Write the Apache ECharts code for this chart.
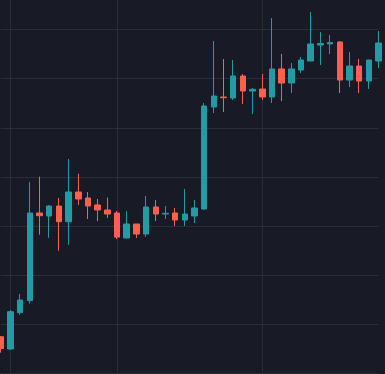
<!DOCTYPE html>
<html>
<head>
<meta charset="utf-8">
<style>
  html, body { margin: 0; padding: 0; background: #181a25; }
  #chart { width: 385px; height: 374px; }
</style>
<script src="https://cdn.jsdelivr.net/npm/echarts@6/dist/echarts.min.js"></script>
</head>
<body>
<div id="chart"></div>
<script>
// Category labels (hidden in the picture)
const categories = [
  '01','02','03','04','05','06','07','08','09','10',
  '11','12','13','14','15','16','17','18','19','20',
  '21','22','23','24','25','26','27','28','29','30',
  '31','32','33','34','35','36','37','38','39','40'
];
// OHLC values
const opens  = [107.45,104.95,112.34,114.79,132.65,132.04,134.07,130.88,136.92,135.70,
                134.28,133.26,132.65,127.56,130.41,128.37,133.87,132.44,132.65,131.22,
                132.04,133.46,154.24,156.27,156.07,160.55,157.49,157.90,156.27,161.98,
                159.12,161.77,163.61,166.86,167.07,167.47,159.73,162.59,159.53,163.61];
const closes = [105.05,112.55,114.93,132.65,132.10,134.07,130.88,136.92,135.50,134.07,
                133.26,132.44,127.76,130.41,128.37,133.87,132.44,132.59,131.22,132.44,
                133.67,154.44,156.48,156.13,160.55,157.49,157.84,156.27,161.98,159.12,
                161.98,163.81,167.07,167.17,167.37,159.73,162.59,159.53,163.81,167.27];
const highs  = [107.60,112.89,116.15,138.96,140.04,134.28,135.70,143.65,140.65,136.92,
                135.50,135.80,133.05,133.05,130.41,136.11,135.30,134.07,133.67,137.54,
                135.30,155.05,167.68,164.01,163.81,160.96,158.11,160.96,172.36,165.03,
                163.20,164.42,173.58,169.51,168.90,167.68,165.44,164.01,163.81,169.71];
const lows   = [104.20,104.75,111.93,114.18,128.23,127.62,124.97,126.19,134.28,131.43,
                131.02,131.63,127.35,127.46,127.56,127.76,131.02,131.43,130.00,130.00,
                130.61,133.26,153.01,153.22,155.66,154.85,152.81,155.66,155.05,155.46,
                157.09,161.16,163.50,162.79,165.03,157.09,158.31,157.09,157.90,162.18];
// Categories where vertical grid lines appear
const dividers = ['02','13','28'];

const candleData = categories.map((c, i) => [opens[i], closes[i], lows[i], highs[i]]);

const UP = '#229ba4';
const DOWN = '#fd5f50';
const GRID = '#2a2d39';

const chart = echarts.init(document.getElementById('chart'), null, { renderer: 'canvas' });
chart.setOption({
  backgroundColor: '#181a25',
  animation: false,
  grid: { left: 0.8, right: 6.5, top: 0, bottom: 0.7, containLabel: false },
  xAxis: {
    type: 'category',
    data: categories,
    boundaryGap: false,
    axisLine: { show: false },
    axisTick: { show: false },
    axisLabel: { show: false },
    splitLine: {
      show: true,
      interval: (idx) => dividers.indexOf(categories[idx]) >= 0,
      lineStyle: { color: GRID, width: 1 }
    }
  },
  yAxis: {
    type: 'value',
    min: 100,
    max: 176.03,
    interval: 10,
    axisLine: { show: false },
    axisTick: { show: false },
    axisLabel: { show: false },
    splitLine: { show: true, showMaxLine: false, lineStyle: { color: GRID, width: 1 } }
  },
  series: [{
    type: 'candlestick',
    data: candleData,
    barWidth: 6,
    clip: false,
    itemStyle: {
      color: UP,
      color0: DOWN,
      borderColor: UP,
      borderColor0: DOWN,
      borderWidth: 1
    }
  }]
});
</script>
</body>
</html>
